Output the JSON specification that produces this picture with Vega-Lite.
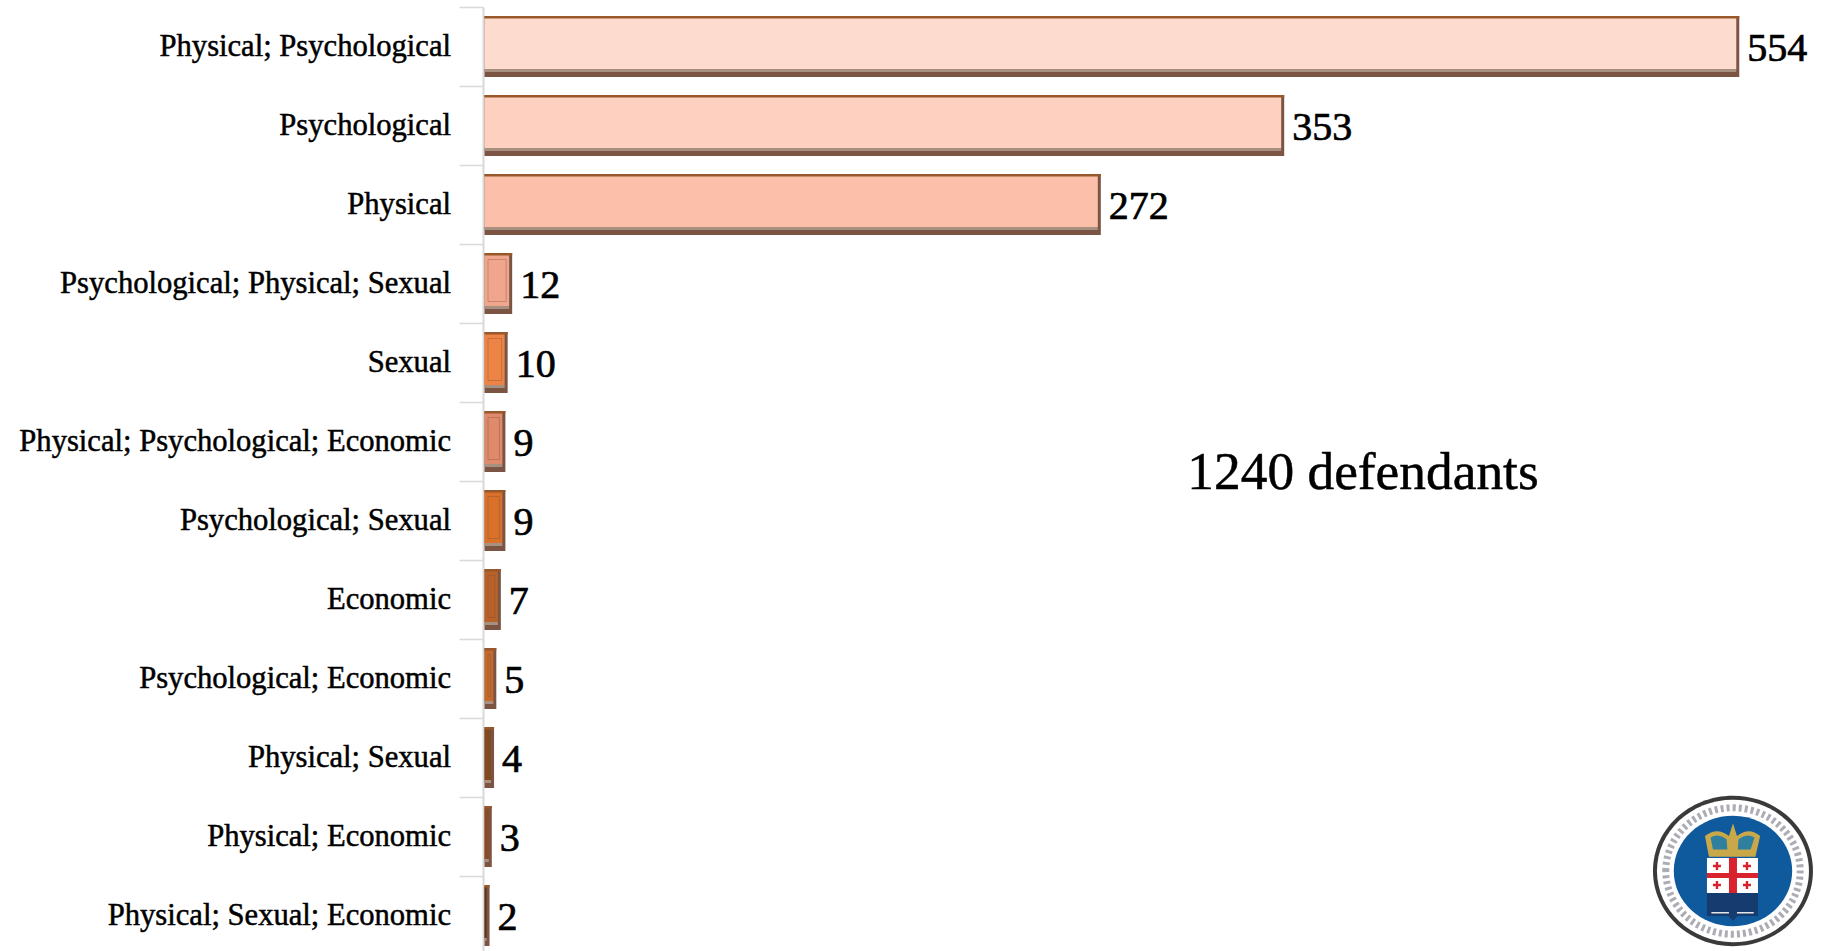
{"$schema":"https://vega.github.io/schema/vega-lite/v6.json","autosize":"none","padding":{"left":483,"top":7,"right":0,"bottom":0},"width":1348,"height":944,"background":"#ffffff","config":{"view":{"stroke":null}},"datasets":{"rows":[{"c":"Physical; Psychological","n":554},{"c":"Psychological","n":353},{"c":"Physical","n":272},{"c":"Psychological; Physical; Sexual","n":12},{"c":"Sexual","n":10},{"c":"Physical; Psychological; Economic","n":9},{"c":"Psychological; Sexual","n":9},{"c":"Economic","n":7},{"c":"Psychological; Economic","n":5},{"c":"Physical; Sexual","n":4},{"c":"Physical; Economic","n":3},{"c":"Physical; Sexual; Economic","n":2}],"note":[{"c":"Physical; Psychological; Economic","n":388.7,"t":"1240 defendants"}],"logo":[{"c":"Physical; Economic","n":552.1}]},"data":{"name":"rows"},"encoding":{"y":{"field":"c","type":"nominal","sort":null,"scale":{"domain":["Physical; Psychological","Psychological","Physical","Psychological; Physical; Sexual","Sexual","Physical; Psychological; Economic","Psychological; Sexual","Economic","Psychological; Economic","Physical; Sexual","Physical; Economic","Physical; Sexual; Economic"],"range":[0,948],"paddingInner":0,"paddingOuter":0},"axis":{"title":null,"domainColor":"#d9d9d9","domainWidth":2,"tickColor":"#d9d9d9","tickWidth":1.5,"tickSize":24,"tickBand":"extent","labels":false,"grid":false}},"x":{"field":"n","type":"quantitative","scale":{"domain":[0,595.4],"range":[0,1348],"nice":false},"axis":null}},"layer":[{"mark":{"type":"bar","height":61,"color":"#7c5444","xOffset":2,"x2Offset":1.5},"encoding":{"x2":{"datum":0}}},{"mark":{"type":"bar","height":51,"yOffset":-3,"xOffset":-1,"x2Offset":1.5},"encoding":{"x2":{"datum":0},"color":{"field":"c","type":"nominal","legend":null,"scale":{"domain":["Physical; Psychological","Psychological","Physical","Psychological; Physical; Sexual","Sexual","Physical; Psychological; Economic","Psychological; Sexual","Economic","Psychological; Economic","Physical; Sexual","Physical; Economic","Physical; Sexual; Economic"],"range":["#fddccf","#fdd0c0","#fcc0aa","#f0a68c","#ed8446","#e08a6c","#d9712b","#b8622a","#c4692c","#7f4a20","#8b4b22","#5c3318"]}}}},{"mark":{"type":"bar","height":2.5,"yOffset":-29.25,"color":"#98582c","xOffset":2,"x2Offset":1.5},"encoding":{"x2":{"datum":0}}},{"mark":{"type":"bar","height":3,"yOffset":24,"xOffset":-1,"x2Offset":1.5,"color":"#a89080"},"encoding":{"x2":{"datum":0}}},{"transform":[{"filter":"datum.n >= 5 && datum.n < 100"}],"mark":{"type":"bar","height":42,"yOffset":-3,"xOffset":-4,"x2Offset":5,"fillOpacity":0,"stroke":"#7a4a34","strokeWidth":1,"strokeOpacity":0.35},"encoding":{"x2":{"datum":0}}},{"mark":{"type":"text","align":"right","baseline":"middle","dx":-32,"dy":0,"font":"Liberation Serif","fontSize":30.6,"color":"#000000","stroke":"#000000","strokeWidth":0.5},"encoding":{"x":{"datum":0},"text":{"field":"c"}}},{"mark":{"type":"text","align":"left","baseline":"middle","dx":10,"dy":2,"font":"Liberation Serif","fontSize":40,"color":"#000000","stroke":"#000000","strokeWidth":0.7},"encoding":{"text":{"field":"n","type":"quantitative"}}},{"data":{"name":"note"},"mark":{"type":"text","align":"center","baseline":"alphabetic","dy":8,"font":"Liberation Serif","fontSize":53.4,"color":"#000000","stroke":"#000000","strokeWidth":0.5},"encoding":{"y":{"field":"c","type":"nominal","sort":null,"bandPosition":1},"text":{"field":"t"}}},{"data":{"name":"logo"},"encoding":{"y":{"field":"c","type":"nominal","sort":null,"bandPosition":1}},"layer":[{"mark":{"type":"point","filled":true,"opacity":1,"size":25600,"color":"#3a3a3a","shape":"M-1,-0.0625A1,0.94,0,1,1,1,-0.0625A1,0.94,0,1,1,-1,-0.0625Z"}},{"mark":{"type":"point","filled":true,"opacity":1,"size":25600,"color":"#ffffff","shape":"M-0.95,-0.0625A0.95,0.89,0,1,1,0.95,-0.0625A0.95,0.89,0,1,1,-0.95,-0.0625Z"}},{"mark":{"type":"point","filled":false,"opacity":0.55,"size":25600,"stroke":"#6a6a7a","strokeWidth":7,"strokeDash":[3,3],"shape":"M-0.84,-0.0625A0.84,0.79,0,1,1,0.84,-0.0625A0.84,0.79,0,1,1,-0.84,-0.0625Z"}},{"mark":{"type":"point","filled":true,"opacity":1,"size":25600,"color":"#0f5a9c","shape":"M-0.74,-0.0625A0.74,0.69,0,1,1,0.74,-0.0625A0.74,0.69,0,1,1,-0.74,-0.0625Z"}},{"mark":{"type":"point","filled":true,"opacity":1,"size":25600,"color":"#c9a84a","shape":"M-0.3,-0.24L-0.35,-0.5Q-0.2,-0.62,-0.05,-0.5L0,-0.66L0.05,-0.5Q0.2,-0.62,0.34,-0.5L0.28,-0.24Z"}},{"mark":{"type":"point","filled":true,"opacity":1,"size":25600,"color":"#2f7f9f","shape":"M-0.25,-0.33L-0.28,-0.48Q-0.18,-0.54,-0.08,-0.46L-0.07,-0.33Z M0.06,-0.33L0.07,-0.46Q0.17,-0.54,0.27,-0.48L0.22,-0.33Z"}},{"mark":{"type":"point","filled":true,"opacity":1,"size":25600,"color":"#163b6e","shape":"M-0.325,0.2125H0.3125V0.5H0.06L0,0.56L-0.06,0.5H-0.325Z"}},{"mark":{"type":"point","filled":true,"opacity":1,"size":25600,"color":"#e6e6e6","shape":"M-0.27,0.45H-0.05V0.47H-0.27Z M0.05,0.45H0.26V0.47H0.05Z"}},{"mark":{"type":"point","filled":true,"opacity":1,"size":25600,"color":"#ffffff","shape":"M-0.325,-0.225H0.3125V0.2125H-0.325Z"}},{"mark":{"type":"point","filled":true,"opacity":1,"size":25600,"color":"#d8232f","shape":"M-0.05,-0.225H0.05V0.2125H-0.05Z M-0.325,-0.0375H0.3125V0.025H-0.325Z M-0.25,-0.14H-0.15V-0.11H-0.25Z M-0.215,-0.175H-0.185V-0.075H-0.215Z M0.125,-0.14H0.225V-0.11H0.125Z M0.16,-0.175H0.19V-0.075H0.16Z M-0.25,0.0975H-0.15V0.1275H-0.25Z M-0.215,0.0625H-0.185V0.1625H-0.215Z M0.125,0.0975H0.225V0.1275H0.125Z M0.16,0.0625H0.19V0.1625H0.16Z"}}]}]}
